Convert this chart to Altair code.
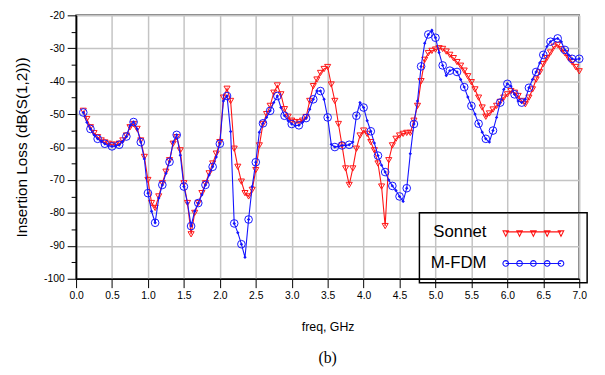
import altair as alt
import pandas as pd
import numpy as np

# ---------------- data ----------------
freq = [round(0.1 + 0.05 * i, 2) for i in range(139)]  # 0.10 ... 7.00 GHz

sonnet = [
    -49.0, -51.5, -54.0, -55.8, -57.0, -58.0, -58.6, -59.0, -59.3, -59.3,
    -59.0, -58.0, -56.5, -54.0, -53.0, -54.5, -58.0, -63.0, -70.0, -77.0,
    -78.5, -75.0, -71.0, -67.5, -64.0, -59.0, -57.0, -61.0, -71.0, -77.0,
    -86.5, -80.0, -77.0, -74.0, -71.0, -68.0, -65.0, -62.0, -58.5, -45.0,
    -42.3, -46.0, -60.5, -66.0, -70.5, -74.0, -75.0, -73.0, -67.0, -59.5,
    -53.0, -50.0, -47.5, -43.5, -41.3, -44.0, -48.5, -50.8, -52.0, -52.4,
    -52.5, -52.0, -50.9, -46.0, -41.5, -39.5, -37.5, -36.3, -35.7, -41.0,
    -46.0, -53.0, -59.5, -66.5, -71.5, -66.5, -60.5, -56.5, -55.0, -56.0,
    -58.5, -61.0, -65.0, -72.0, -84.0, -64.0, -59.5, -57.5, -56.5, -56.0,
    -55.7, -55.7, -52.0, -47.5, -40.0, -33.5, -31.5, -30.8, -30.4, -30.0,
    -30.2, -31.0, -32.0, -33.0, -34.2, -35.3, -36.8, -38.5, -40.3, -42.5,
    -45.0, -48.0, -50.8, -49.8, -48.6, -47.5, -46.3, -45.0, -44.0, -43.0,
    -43.5, -44.5, -46.0, -47.0, -45.0, -42.5, -39.5, -37.3, -34.8, -33.0,
    -31.3, -29.5, -29.0, -30.3, -31.5, -33.0, -34.2, -35.7, -37.0,
]

mfdm = [
    -49.5, -52.5, -54.5, -56.3, -57.5, -58.3, -59.0, -59.6, -59.8, -59.7,
    -59.3, -58.3, -56.8, -53.5, -52.4, -54.5, -58.5, -63.6, -74.0, -79.5,
    -83.0, -75.5, -71.5, -68.0, -64.5, -58.5, -56.3, -62.5, -72.0, -77.0,
    -84.0, -79.5, -77.0, -74.5, -71.5, -68.5, -66.0, -63.0, -59.0, -46.0,
    -44.5, -55.3, -83.2, -86.0, -89.5, -93.5, -82.0, -72.0, -64.6, -55.5,
    -52.8, -51.0, -49.0, -46.5, -44.5, -48.0, -50.5, -52.0, -53.0, -53.5,
    -53.4, -52.5, -51.2, -48.5, -45.5, -43.0, -43.0, -45.5, -51.0, -59.2,
    -60.0, -59.8, -59.5, -59.5, -59.3, -58.5, -50.5, -46.5, -48.0, -52.0,
    -55.2, -58.8, -62.6, -65.5, -67.6, -70.0, -71.8, -73.2, -75.0, -76.5,
    -72.5, -62.0, -53.0, -46.0, -35.5, -28.5, -25.8, -24.5, -26.8, -31.3,
    -35.2, -38.3, -36.8, -36.4, -37.2, -39.5, -41.8, -44.8, -47.5, -50.0,
    -52.9, -55.5, -57.5, -58.5, -55.0, -51.0, -46.5, -42.5, -40.8, -41.5,
    -44.0, -46.0, -46.5, -45.5, -42.0, -39.5, -37.2, -34.5, -32.0, -29.5,
    -28.0, -27.3, -27.0, -28.0, -30.5, -32.0, -33.2, -33.4, -33.2,
]

series_names = ["Sonnet", "M-FDM"]
series_colors = ["#ff1414", "#1414ff"]
x_ticks = [round(0.5 * i, 1) for i in range(15)]
y_ticks = list(range(-100, -19, 10))
y_minor = list(range(-95, -20, 10))

n = len(freq)
df = pd.DataFrame({
    "freq": freq + freq,
    "loss": sonnet + mfdm,
    "series": ["Sonnet"] * n + ["M-FDM"] * n,
    "idx": list(range(n)) * 2,
})

RED, BLUE = series_colors
FONT = "Liberation Sans"

# ---------------- legend symbols (line + 5 markers, drawn right of label) ----------------
# symbol units: 1 unit = sqrt(symbolSize)/2 = 5 px
C = 19.2                       # centre of the sample, to the right of the label
mx = [C - 5.6, C - 2.8, C, C + 2.8, C + 5.6]
RIGHT_END = 27.3               # extends legend box to the right


def tri_path():
    p = f"M{mx[0]:.2f},0L{mx[-1]:.2f},0"
    for x in mx:
        p += f"M{x-0.55:.3f},-0.2L{x+0.55:.3f},-0.2L{x:.3f},0.9Z"
    return p + f"M{RIGHT_END:.2f},0"


def circ_path():
    p = f"M{mx[0]:.2f},0L{mx[-1]:.2f},0"
    ang = np.linspace(0, 2 * np.pi, 17)[:-1]
    for x in mx:
        pts = [(x + 0.57 * np.cos(a), 0.57 * np.sin(a)) for a in ang]
        p += "M" + "L".join(f"{px:.3f},{py:.3f}" for px, py in pts) + "Z"
    return p + f"M{RIGHT_END:.2f},0"


# ---------------- encodings ----------------
xenc = alt.X(
    "freq:Q",
    scale=alt.Scale(domain=[0, 7], nice=False, zero=False),
    axis=alt.Axis(
        values=x_ticks,
        labelExpr="format(datum.value, '.1f')",
        title="freq, GHz",
        grid=True,
        tickSize=9,
        labelPadding=3,
        titlePadding=20,
        labelFlush=False,
        labelOverlap=False,
    ),
)
yenc = alt.Y(
    "loss:Q",
    scale=alt.Scale(domain=[-100, -20], nice=False, zero=False),
    axis=alt.Axis(
        values=y_ticks,
        labelExpr="toString(datum.value)",
        title="Insertion Loss (dB(S(1,2)))",
        grid=True,
        tickSize=9,
        labelPadding=3,
        titlePadding=14,
        orient="left",
        labelOverlap=False,
    ),
)

base = alt.Chart(df).encode(x=xenc, y=yenc)
s = base.transform_filter("datum.series == 'Sonnet'")
m = base.transform_filter("datum.series == 'M-FDM'")

red_line = s.mark_line(color=RED, strokeWidth=1.1)
red_pts = s.mark_point(shape="triangle-down", filled=False, color=RED,
                       size=38, strokeWidth=1, opacity=1)
blue_line = m.mark_line(color=BLUE, strokeWidth=1.1)
blue_dots = m.mark_point(shape="diamond", filled=True, color=BLUE,
                         size=12, opacity=1)
blue_circ = m.transform_filter("datum.idx % 2 == 0").mark_point(
    shape="circle", filled=False, color=BLUE, size=60, strokeWidth=1, opacity=1)

leg_props = dict(
    title=None, orient="none", legendX=348, legendY=200,
    strokeColor="black", padding=11,
    labelFont=FONT, labelFontSize=17, labelColor="black",
    labelAlign="right", labelOffset=40,
    rowPadding=14, symbolSize=100, symbolStrokeWidth=1.1,
)
legend_layer = base.transform_filter("false").mark_point(
    filled=False, size=100, strokeWidth=1.1, opacity=1
).encode(
    color=alt.Color("series:N",
                    scale=alt.Scale(domain=series_names, range=series_colors),
                    legend=alt.Legend(**leg_props)),
    shape=alt.Shape("series:N",
                    scale=alt.Scale(domain=series_names, range=[tri_path(), circ_path()]),
                    legend=alt.Legend(**leg_props)),
)

main = alt.layer(red_line, red_pts, blue_line, blue_dots, blue_circ, legend_layer)

minor = alt.Chart(df).mark_tick(opacity=0).encode(
    y=alt.Y("loss:Q",
            scale=alt.Scale(domain=[-100, -20], nice=False, zero=False),
            axis=alt.Axis(values=y_minor, labels=False, grid=False, domain=False,
                          ticks=True, tickSize=5, title=None, orient="left"))
)

chart = alt.layer(main, minor).resolve_axis(y="independent").properties(
    width=510,
    height=267,
    autosize="none",
    padding={"left": 69, "top": 5, "right": 18, "bottom": 87},
    title=alt.TitleParams("(b)", orient="bottom", font="Liberation Serif",
                          fontSize=16, fontWeight="normal", color="black",
                          offset=17),
).configure_view(
    stroke="#222222", strokeWidth=1.5
).configure_axis(
    labelFont=FONT, labelFontSize=10.5, labelColor="black",
    titleFont=FONT, titleFontWeight="normal", titleColor="black",
    domainColor="black", domainWidth=1.5, tickColor="black", tickWidth=1,
    gridColor="#c4c4c4", gridWidth=1.5,
).configure_axisX(
    titleFontSize=12.5,
).configure_axisY(
    titleFontSize=15.5,
).configure_legend(
    strokeWidth=1.5,
)

chart.save("out.html", embed_options={"renderer": "svg", "actions": False})
